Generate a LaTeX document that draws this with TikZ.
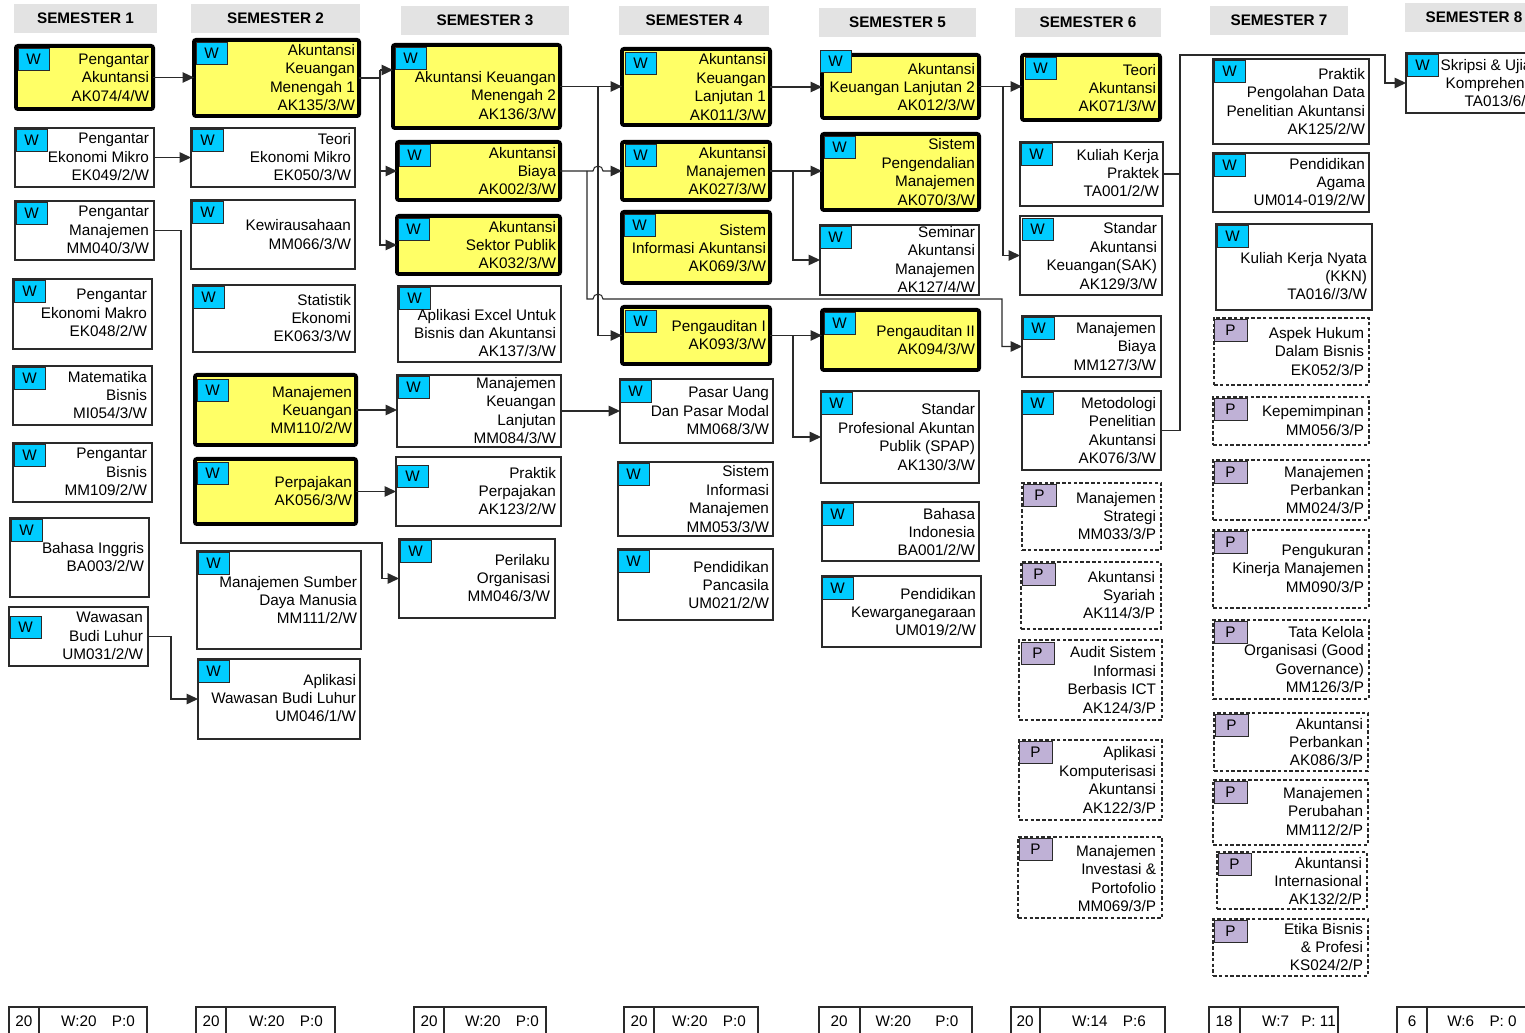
\documentclass[tikz,border=0pt]{standalone}
\usepackage{fontspec}
\setmainfont{Liberation Sans}
\usetikzlibrary{arrows.meta,fit,calc}
\definecolor{ylw}{HTML}{FFFF66}
\definecolor{wtag}{HTML}{00CCFF}
\definecolor{ptag}{HTML}{BFB1D6}
\definecolor{hdrgray}{HTML}{E3E3E3}
\definecolor{lnc}{HTML}{2A2A2A}
\tikzset{
 base/.style={inner sep=0pt, outer sep=0pt},
 ybox/.style={base, draw=black, line width=2.2pt, fill=ylw, rounded corners=1.2pt, inner sep=-1.1pt},
 wbox/.style={base, draw=lnc, line width=0.65pt, fill=white},
 pbox/.style={base, draw=lnc, line width=0.6pt, dash pattern=on 2pt off 1.3pt, fill=white},
 tagW/.style={base, draw=lnc, line width=0.5pt, fill=wtag, minimum width=0.62cm, minimum height=0.44cm, font=\fontsize{8.7}{10.5}\selectfont},
 tagP/.style={tagW, fill=ptag, minimum width=0.66cm},
 txt/.style={base, align=right, font=\fontsize{8.7}{10.5}\selectfont},
 hdr/.style={base, fill=hdrgray},
 hdrtxt/.style={base, font=\bfseries\fontsize{8.7}{10.5}\selectfont},
 sumbox/.style={base, draw=lnc, line width=0.6pt},
 conn/.style={draw=lnc, line width=0.6pt},
 arr/.style={conn, -{Triangle[length=6.5pt,width=6pt]}},
}
\newcommand\course[8]{%
 \node[#2, fit={(#3) (#4)}] (#1) {};
 \node[tag#5, anchor=north west] (#1t) at (#6) {#5};
 \node[txt, anchor=east] (#1x) at (#7) {#8};
}
\newcommand\semhead[4]{%
 \node[hdr, fit={(#2) (#3)}] (#1) {};
 \node[hdrtxt] (#1x) at (#1) {#4};
}
\newcommand\sumrow[8]{%
 \node[sumbox, fit={(#2,1007) (#3,1045)}] (#1a) {};
 \node[sumbox, fit={(#3,1007) (#4,1045)}] (#1b) {};
 \node[txt] (#1at) at (#5,1021) {#6};
 \node[txt] (#1bt) at (#7,1021) {#8};
}
\begin{document}
\begin{tikzpicture}[x=0.02cm, y=-0.02cm]
\useasboundingbox (0,0) rectangle (1525,1033);
\clip (0,0) rectangle (1525,1033);
% headers
\semhead{h1}{14,4}{157,33}{SEMESTER 1}
\semhead{h2}{191,4}{360,33}{SEMESTER 2}
\semhead{h3}{401,6}{569,35}{SEMESTER 3}
\semhead{h4}{619,6}{769,35}{SEMESTER 4}
\semhead{h5}{819,8}{976,37}{SEMESTER 5}
\semhead{h6}{1015,8}{1161,37}{SEMESTER 6}
\semhead{h7}{1210,6}{1348,35}{SEMESTER 7}
\semhead{h8}{1405,3}{1543,32}{SEMESTER 8}
% semester 1
\course{s1a}{ybox}{14,44}{155,111}{W}{18,48}{149,77.5}{Pengantar\\Akuntansi\\AK074/4/W}
\course{s1b}{wbox}{15,128}{154,187}{W}{16,129}{149,157}{Pengantar\\Ekonomi Mikro\\EK049/2/W}
\course{s1c}{wbox}{15,201}{154,260}{W}{16,202}{149,230}{Pengantar\\Manajemen\\MM040/3/W}
\course{s1d}{wbox}{13,279}{152,349}{W}{14,280}{147,313}{Pengantar\\Ekonomi Makro\\EK048/2/W}
\course{s1e}{wbox}{13,366}{152,425}{W}{14,367}{147,395}{Matematika\\Bisnis\\MI054/3/W}
\course{s1f}{wbox}{13,443}{152,502}{W}{14,444}{147,472}{Pengantar\\Bisnis\\MM109/2/W}
\course{s1g}{wbox}{10,518}{149,597}{W}{11,519}{144,557}{Bahasa Inggris\\BA003/2/W}
\course{s1h}{wbox}{9,607}{148,666}{W}{10,616}{143,636}{Wawasan\\Budi Luhur\\UM031/2/W}
% semester 2
\course{s2a}{ybox}{192,38}{361,118}{W}{196,42}{355,77.5}{Akuntansi\\Keuangan\\Menengah 1\\AK135/3/W}
\course{s2b}{wbox}{191,128}{355,187}{W}{192,129}{351,157}{Teori\\Ekonomi Mikro\\EK050/3/W}
\course{s2c}{wbox}{191,200}{355,269}{W}{192,201}{351,234.5}{Kewirausahaan\\MM066/3/W}
\course{s2d}{wbox}{193,285}{355,352}{W}{193,286}{351,318}{Statistik\\Ekonomi\\EK063/3/W}
\course{s2e}{ybox}{193,373}{358,447}{W}{197,379}{352,410}{Manajemen\\Keuangan\\MM110/2/W}
\course{s2f}{ybox}{193,457}{358,526}{W}{197,462}{352,491}{Perpajakan\\AK056/3/W}
\course{s2g}{wbox}{197,551}{361,649}{W}{198,552}{357,600}{Manajemen Sumber\\Daya Manusia\\MM111/2/W}
\course{s2h}{wbox}{198,659}{360,739}{W}{198,660}{356,698}{Aplikasi\\Wawasan Budi Luhur\\UM046/1/W}
% semester 3
\course{s3a}{ybox}{391,43}{562,130}{W}{395,47}{556,95.5}{Akuntansi Keuangan\\Menengah 2\\AK136/3/W}
\course{s3b}{ybox}{395,140}{562,202}{W}{399,144}{556,171}{Akuntansi\\Biaya\\AK002/3/W}
\course{s3c}{ybox}{395,214}{562,276}{W}{398,218}{556,245}{Akuntansi\\Sektor Publik\\AK032/3/W}
\course{s3d}{wbox}{398,286}{561,362}{W}{399,287}{556,333}{Aplikasi Excel Untuk\\Bisnis dan Akuntansi\\AK137/3/W}
\course{s3e}{wbox}{397,375}{561,447}{W}{398,376}{556,410.5}{Manajemen\\Keuangan\\Lanjutan\\MM084/3/W}
\course{s3f}{wbox}{396,457}{561,526}{W}{397,465}{556,491}{Praktik\\Perpajakan\\AK123/2/W}
\course{s3g}{wbox}{399,539}{555,618}{W}{400,540}{550,578}{Perilaku\\Organisasi\\MM046/3/W}
% semester 4
\course{s4a}{ybox}{620,47}{772,127}{W}{625,52}{766,87}{Akuntansi\\Keuangan\\Lanjutan 1\\AK011/3/W}
\course{s4b}{ybox}{620,140}{772,202}{W}{625,144}{766,171}{Akuntansi\\Manajemen\\AK027/3/W}
\course{s4c}{ybox}{620,210}{772,285}{W}{624,214}{766,248}{Sistem\\Informasi Akuntansi\\AK069/3/W}
\course{s4d}{ybox}{620,305}{772,366}{W}{625,310}{766,335}{Pengauditan I\\AK093/3/W}
\course{s4e}{wbox}{620,379}{773,443}{W}{620,380}{769,411}{Pasar Uang\\Dan Pasar Modal\\MM068/3/W}
\course{s4f}{wbox}{618,462}{773,536}{W}{618,463}{769,499}{Sistem\\Informasi\\Manajemen\\MM053/3/W}
\course{s4g}{wbox}{618,549}{773,620}{W}{618,550}{769,585}{Pendidikan\\Pancasila\\UM021/2/W}
% semester 5
\course{s5a}{ybox}{820,53}{981,120}{W}{820,50}{975,87}{Akuntansi\\Keuangan Lanjutan 2\\AK012/3/W}
\course{s5b}{ybox}{820,132}{981,212}{W}{824,136}{975,172}{Sistem\\Pengendalian\\Manajemen\\AK070/3/W}
\course{s5c}{wbox}{820,225}{979,295}{W}{820,226}{975,259.5}{Seminar\\Akuntansi\\Manajemen\\AK127/4/W}
\course{s5d}{ybox}{820,308}{981,372}{W}{824,312}{975,340}{Pengauditan II\\AK094/3/W}
\course{s5e}{wbox}{821,391}{979,483}{W}{821,392}{975,437}{Standar\\Profesional Akuntan\\Publik (SPAP)\\AK130/3/W}
\course{s5f}{wbox}{822,502}{979,561}{W}{822,503}{975,532}{Bahasa\\Indonesia\\BA001/2/W}
\course{s5g}{wbox}{822,576}{981,647}{W}{822,577}{976,612}{Pendidikan\\Kewarganegaraan\\UM019/2/W}
% semester 6
\course{s6a}{ybox}{1020,53}{1162,122}{W}{1025,57}{1156,88}{Teori\\Akuntansi\\AK071/3/W}
\course{s6b}{wbox}{1020,142}{1163,206}{W}{1021,143}{1159,173}{Kuliah Kerja\\Praktek\\TA001/2/W}
\course{s6c}{wbox}{1020,216}{1162,295}{W}{1022,218}{1157,256}{Standar\\Akuntansi\\Keuangan(SAK)\\AK129/3/W}
\course{s6d}{wbox}{1022,316}{1161,377}{W}{1023,317}{1156,346.5}{Manajemen\\Biaya\\MM127/3/W}
\course{s6e}{wbox}{1022,391}{1161,470}{W}{1022,392}{1156,430.5}{Metodologi\\Penelitian\\Akuntansi\\AK076/3/W}
\course{s6f}{pbox}{1022,483}{1161,550}{P}{1023,484}{1156,516}{Manajemen\\Strategi\\MM033/3/P}
\course{s6g}{pbox}{1021,562}{1161,629}{P}{1022,563}{1155,595}{Akuntansi\\Syariah\\AK114/3/P}
\course{s6h}{pbox}{1019,640}{1162,720}{P}{1021,642}{1156,680}{Audit Sistem\\Informasi\\Berbasis ICT\\AK124/3/P}
\course{s6i}{pbox}{1019,740}{1162,820}{P}{1019,741}{1156,780}{Aplikasi\\Komputerisasi\\Akuntansi\\AK122/3/P}
\course{s6j}{pbox}{1018,837}{1162,918}{P}{1019,838}{1156,878.5}{Manajemen\\Investasi \&\\Portofolio\\MM069/3/P}
% semester 7
\course{s7a}{wbox}{1213,59}{1369,144}{W}{1214,60}{1365,101.5}{Praktik\\Pengolahan Data\\Penelitian Akuntansi\\AK125/2/W}
\course{s7b}{wbox}{1213,153}{1369,212}{W}{1214,154}{1365,182}{Pendidikan\\Agama\\UM014-019/2/W}
\course{s7c}{wbox}{1216,224}{1372,310}{W}{1217,225}{1367,276}{Kuliah Kerja Nyata\\(KKN)\\TA016//3/W}
\course{s7d}{pbox}{1214,318}{1369,385}{P}{1214,319}{1364,351.5}{Aspek Hukum\\Dalam Bisnis\\EK052/3/P}
\course{s7e}{pbox}{1213,397}{1369,445}{P}{1214,398}{1364,420.5}{Kepemimpinan\\MM056/3/P}
\course{s7f}{pbox}{1213,460}{1369,520}{P}{1214,461}{1364,490}{Manajemen\\Perbankan\\MM024/3/P}
\course{s7g}{pbox}{1213,530}{1369,608}{P}{1214,531}{1364,568.5}{Pengukuran\\Kinerja Manajemen\\MM090/3/P}
\course{s7h}{pbox}{1213,620}{1369,699}{P}{1214,621}{1364,659.5}{Tata Kelola\\Organisasi (Good\\Governance)\\MM126/3/P}
\course{s7i}{pbox}{1214,713}{1368,771}{P}{1215,714}{1363,742}{Akuntansi\\Perbankan\\AK086/3/P}
\course{s7j}{pbox}{1213,780}{1368,845}{P}{1214,781}{1363,811.5}{Manajemen\\Perubahan\\MM112/2/P}
\course{s7k}{pbox}{1217,852}{1367,909}{P}{1218,853}{1362,881}{Akuntansi\\Internasional\\AK132/2/P}
\course{s7l}{pbox}{1213,919}{1368,976}{P}{1214,920}{1363,947}{Etika Bisnis\\\& Profesi\\KS024/2/P}
% semester 8 (box runs past the right edge, as in the reference)
\course{s8a}{wbox}{1406,53}{1546,113}{W}{1407,54}{1540,83}{Skripsi \& Ujian\\Komprehensif\\TA013/6/W}
% totals
\sumrow{f1}{9}{39}{147}{24}{20}{98}{W:20\hspace{1em}P:0}
\sumrow{f2}{196}{226}{335}{211}{20}{286}{W:20\hspace{1em}P:0}
\sumrow{f3}{414}{444}{546}{429}{20}{502}{W:20\hspace{1em}P:0}
\sumrow{f4}{624}{654}{758}{639}{20}{709}{W:20\hspace{1em}P:0}
\sumrow{f5}{819}{860}{972}{839}{20}{917}{W:20\hspace{1.6em}P:0}
\sumrow{f6}{1011}{1040}{1165}{1025}{20}{1109}{W:14\hspace{1em}P:6}
\sumrow{f7}{1209}{1240}{1338}{1224}{18}{1299}{W:7\hspace{0.8em}P: 11}
\sumrow{f8}{1397}{1427}{1545}{1412}{6}{1482}{W:6\hspace{1em}P: 0}
% connectors S1 -> S2
\draw[arr] (s1a.east) -- (s1a.east -| s2a.west);
\draw[arr] (s1b.east) -- (s1b.east -| s2b.west);
\draw[arr] (s1c.east) -| (181,543) -| (s3g.west -| 382,0) -- (s3g.west);
\draw[arr] (s1h.east) -| (s2h.west -| 171,0) -- (s2h.west);
% S2 -> S3
\coordinate (j1) at (380,70);
\draw[conn] (s2a.east) -- (s2a.east -| j1) -- (j1);
\draw[arr] (j1) -- (j1 -| s3a.west);
\draw[arr] (j1) |- (s3b.west);
\draw[arr] (j1) |- (s3c.west);
\draw[arr] (s2e.east) -- (s2e.east -| s3e.west);
\draw[arr] (s2f.east) -- (s2f.east -| s3f.west);
% S3 -> S4
\draw[arr] (s3a.east) -- (s3a.east -| s4a.west);
\draw[arr] (s3a.east -| 598,0) |- (s4d.west);
\draw[arr] (s3b.east) -- (593,171) arc[start angle=180,end angle=0,radius=0.1cm] -- (s4b.west);
\draw[arr] (s3b.east -| 587,0) |- (593,299) arc[start angle=180,end angle=0,radius=0.1cm] -| (s6d.west -| 1002,0) -- (s6d.west);
\draw[arr] (s3e.east) -- (s3e.east -| s4e.west);
% S4 -> S5
\draw[arr] (s4a.east) -- (s4a.east -| s5a.west);
\draw[arr] (s4b.east) -- (s4b.east -| s5b.west);
\draw[arr] (s4b.east -| 793,0) |- (s5c.west);
\draw[arr] (s4d.east) -- (s4d.east -| s5d.west);
\draw[arr] (s4d.east -| 793,0) |- (s5e.west);
% S5 -> S6
\draw[arr] (s5a.east) -- (s5a.east -| s6a.west);
\draw[arr] (s5a.east -| 1003,0) |- (s6c.west);
% S6 -> S8
\draw[conn] (s6b.east) -- (s6b.east -| 1180,0);
\draw[arr] (s6e.east) -| (1180,55) -| (s8a.west -| 1385,0) -- (s8a.west);
\end{tikzpicture}
\end{document}
